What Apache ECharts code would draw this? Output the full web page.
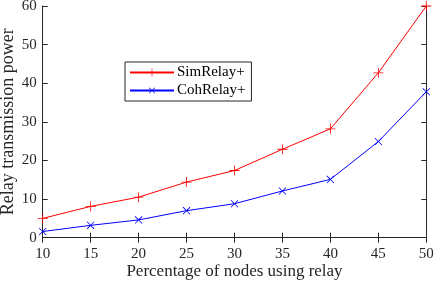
<!DOCTYPE html>
<html><head><meta charset="utf-8">
<script src="https://cdn.jsdelivr.net/npm/echarts@6/dist/echarts.min.js"></script>
<style>html,body{margin:0;padding:0;background:#fff}#c{width:436px;height:283px}</style>
</head><body><div id="c"></div>
<script>
const categories = [10, 15, 20, 25, 30, 35, 40, 45, 50];
const simRelay = [5.0, 8.1, 10.5, 14.4, 17.4, 22.9, 28.2, 42.7, 60.0];
const cohRelay = [1.6, 3.2, 4.6, 7.0, 8.8, 12.1, 15.1, 24.9, 37.8];
const xTicks = [10, 15, 20, 25, 30, 35, 40, 45, 50];
const yTicks = [0, 10, 20, 30, 40, 50, 60];

const font = 'Liberation Serif';
const ink = '#262626';
const plus = 'path://M4.6,0H5.4V4.6H10V5.4H5.4V10H4.6V5.4H0V4.6H4.6Z';
const chart = echarts.init(document.getElementById('c'));
const axisCommon = {
  axisLine: {show: true, lineStyle: {color: ink, width: 1}},
  axisTick: {show: true, inside: true, length: 5, lineStyle: {color: ink}},
  splitLine: {show: false}
};
chart.setOption({
  animation: false,
  textStyle: {fontFamily: font},
  grid: {left: 42.7, right: 9.7, top: 6, bottom: 45.3, containLabel: false, outerBoundsMode: 'none'},
  legend: {
    orient: 'vertical', left: 125, top: 62,
    backgroundColor: '#fff', borderColor: ink, borderWidth: 1,
    padding: [3, 6, 3, 4], itemGap: 3, itemWidth: 44, itemHeight: 10,
    textStyle: {fontFamily: font, fontSize: 15, color: '#000', padding: [0, 0, 0, -2]},
    data: ['SimRelay+', 'CohRelay+']
  },
  xAxis: [
    Object.assign({type: 'value', min: 10, max: 50, interval: 5,
      name: 'Percentage of nodes using relay', nameLocation: 'middle', nameGap: 25,
      nameMoveOverlap: false,
      nameTextStyle: {fontFamily: font, fontSize: 17, color: ink},
      axisLabel: {fontFamily: font, fontSize: 15, color: ink, margin: 9,
        formatter: v => xTicks.includes(v) ? String(v) : ''}}, axisCommon),
    Object.assign({type: 'value', min: 10, max: 50, interval: 5, position: 'top',
      axisLabel: {show: false}}, axisCommon)
  ],
  yAxis: [
    Object.assign({type: 'value', min: 0, max: 60, interval: 10,
      name: 'Relay transmission power', nameLocation: 'middle', nameGap: 25,
      nameMoveOverlap: false,
      nameTextStyle: {fontFamily: font, fontSize: 18, color: ink},
      axisLabel: {fontFamily: font, fontSize: 15, color: ink, margin: 6,
        formatter: v => yTicks.includes(v) ? String(v) : ''}}, axisCommon),
    Object.assign({type: 'value', min: 0, max: 60, interval: 10, position: 'right',
      axisLabel: {show: false}}, axisCommon)
  ],
  series: [
    {name: 'SimRelay+', type: 'line', data: categories.map((c, i) => [c, simRelay[i]]),
      symbol: plus, symbolSize: 10, showAllSymbol: true,
      lineStyle: {color: '#ff0000', width: 1}, itemStyle: {color: '#ff0000'}},
    {name: 'CohRelay+', type: 'line', data: categories.map((c, i) => [c, cohRelay[i]]),
      symbol: plus, symbolSize: 10, symbolRotate: 45, showAllSymbol: true,
      lineStyle: {color: '#0000ff', width: 1}, itemStyle: {color: '#0000ff'}}
  ]
});
</script></body></html>
